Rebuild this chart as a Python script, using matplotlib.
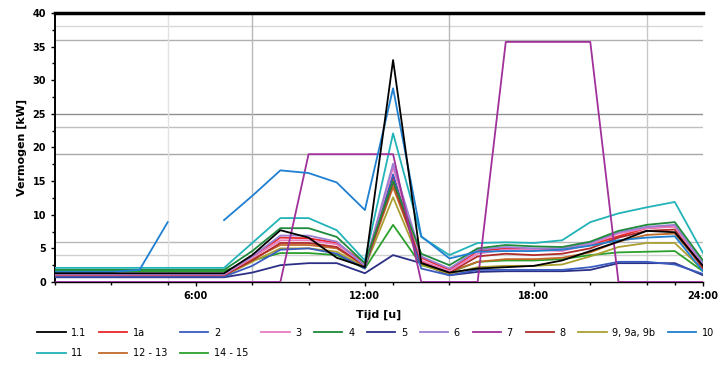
import numpy as np
import matplotlib
matplotlib.use("Agg")
import matplotlib.pyplot as plt

# hours of the day (hourly values)
hours = list(range(1, 25))
nan = np.nan

# series values, h1 .. h24
s_11 = [1.3]*7 + [4.0, 7.7, 6.6, 3.6, 2.2, 33.0, 2.8, 1.4, 2.0, 2.2, 2.4, 3.2, 4.6, 6.0, 7.6, 7.4, 2.4]
s_1a = [1.0]*7 + [3.8, 6.6, 6.5, 5.8, 2.8, 15.6, 3.6, 1.8, 4.6, 5.0, 4.8, 4.8, 5.5, 6.8, 8.0, 8.3, 2.2]
s_2 = [0.8]*7 + [2.4, 4.8, 5.0, 4.2, 2.0, 16.0, 2.0, 1.0, 1.8, 1.8, 1.8, 1.8, 2.2, 3.0, 3.0, 2.6, 1.2]
s_3 = [1.1]*7 + [3.6, 6.2, 6.2, 5.6, 2.6, 17.0, 3.2, 1.6, 4.2, 4.8, 4.8, 4.6, 5.6, 7.2, 8.0, 8.2, 2.6]
s_4 = [1.8]*7 + [4.6, 8.0, 8.0, 6.7, 2.8, 15.0, 4.2, 2.5, 5.0, 5.5, 5.3, 5.2, 6.0, 7.6, 8.5, 8.9, 3.2]
s_5 = [0.7]*7 + [1.4, 2.5, 2.8, 2.8, 1.3, 4.0, 2.8, 1.0, 1.5, 1.6, 1.6, 1.6, 1.8, 2.8, 2.8, 2.8, 1.0]
s_6 = [1.2]*7 + [3.8, 6.9, 6.9, 6.0, 2.4, 17.6, 3.8, 2.0, 4.8, 5.2, 5.0, 5.0, 5.8, 7.4, 8.2, 8.5, 2.8]
s_7 = [0.0]*9 + [19.0, 19.0, 19.0, 19.0, 0.0, 0.0, 0.0, 35.7, 35.7, 35.7, 35.7, 0.0, 0.0, 0.0, 0.0]
s_8 = [1.0]*7 + [3.2, 5.8, 5.8, 5.2, 2.4, 14.8, 3.0, 1.4, 3.8, 4.2, 4.0, 4.2, 5.0, 6.6, 7.6, 7.8, 2.0]
s_9 = [0.9]*7 + [3.0, 5.0, 5.0, 4.5, 2.2, 12.6, 2.6, 1.2, 2.2, 2.4, 2.4, 2.6, 3.8, 5.2, 5.8, 5.8, 1.8]
s_10 = [1.5, 1.5, 1.5, 1.8, 8.9, nan, 9.2, 12.8, 16.6, 16.2, 14.8, 10.7, 28.8, 6.8, 3.5, 4.5, 4.6, 4.6, 4.8, 5.4, 6.2, 6.6, 6.8, 1.6]
s_11b = [2.1]*7 + [5.8, 9.5, 9.5, 7.7, 3.2, 22.1, 6.7, 4.0, 5.8, 5.9, 5.8, 6.2, 8.9, 10.2, 11.1, 11.9, 4.3]
s_12 = [1.0]*7 + [3.4, 5.5, 5.5, 5.0, 2.4, 14.1, 3.0, 1.5, 3.0, 3.4, 3.4, 3.6, 4.4, 6.0, 7.0, 7.2, 2.2]
s_14 = [1.6]*7 + [3.2, 4.3, 4.3, 4.0, 2.0, 8.5, 2.5, 1.4, 3.0, 3.2, 3.2, 3.4, 4.0, 4.4, 4.5, 4.6, 1.6]

labels = ["1.1", "1a", "2", "3", "4", "5", "6", "7", "8", "9, 9a, 9b", "10",
          "11", "12 - 13", "14 - 15"]
series = [s_11, s_1a, s_2, s_3, s_4, s_5, s_6, s_7, s_8, s_9, s_10, s_11b, s_12, s_14]
colors = ["#000000", "#e8262b", "#3a5bbf", "#e87cc0", "#1f8a3c", "#2b2f86", "#9b7fd4",
          "#a0309a", "#b02a2a", "#aaa032", "#1f7fd0", "#22b3b8", "#c06a2a", "#2ca02c"]

fig = plt.figure(figsize=(7.21, 3.69), dpi=100)
ax = fig.add_axes([0.0763, 0.2358, 0.8987, 0.729])

# odd reference lines like in the original sheet
for lvl, c in [(38, "#d8d8d8"), (36, "#b0b0b0"), (25, "#909090"), (23, "#c0c0c0"),
               (19, "#a8a8a8"), (6, "#b8b8b8"), (4, "#d0d0d0")]:
    ax.axhline(lvl, color=c, lw=1.0, zorder=0)
for hv, c in [(5, "#e2e2e2"), (8, "#b8b8b8"), (15, "#b8b8b8"), (22, "#c8c8c8")]:
    ax.axvline(hv, color=c, lw=1.0, zorder=0)

handles = []
order_z = [14, 5, 6, 7, 8, 4, 7, 9, 6, 5, 10, 8, 5, 4]
for vals, lab, col, z in zip(series, labels, colors, order_z):
    h, = ax.plot(hours, vals, color=col, lw=1.3, label=lab, zorder=z)
    handles.append(h)

ax.set_xlim(1, 24)
ax.set_ylim(0, 40)
ax.set_yticks(np.arange(0, 41, 5))
ax.set_yticks(np.arange(0, 40, 2.5), minor=True)
ax.set_xticks([6, 12, 18, 24])
ax.set_xticklabels(["6:00", "12:00", "18:00", "24:00"])
ax.set_xticks([1, 3, 5, 8, 10, 13, 15, 20, 22, 23], minor=True)
ax.tick_params(labelsize=7, length=3, width=1)
ax.tick_params(which="minor", length=2, width=1)
for t in ax.get_xticklabels() + ax.get_yticklabels():
    t.set_fontweight("bold")

ax.spines["right"].set_visible(False)
ax.spines["top"].set_linewidth(2.5)
ax.spines["left"].set_linewidth(1.4)
ax.spines["bottom"].set_linewidth(1.0)

ax.set_ylabel("Vermogen [kW]", fontsize=8, fontweight="bold")
ax.set_xlabel("Tijd [u]", fontsize=8, fontweight="bold", labelpad=6)

# legend: 11 items on row one, 3 on row two (column-major fill, so reorder)
row1 = list(range(11))
row2 = [11, 12, 13]
order = []
for i in range(11):
    order.append(row1[i])
    if i < len(row2):
        order.append(row2[i])
fig.legend([handles[i] for i in order], [labels[i] for i in order],
           loc="upper left", bbox_to_anchor=(0.045, 0.125), ncol=11, frameon=False,
           fontsize=7, handlelength=2.9, handletextpad=0.6, columnspacing=1.3,
           borderpad=0.0, labelspacing=1.1)

fig.savefig("out.png", dpi=100)
